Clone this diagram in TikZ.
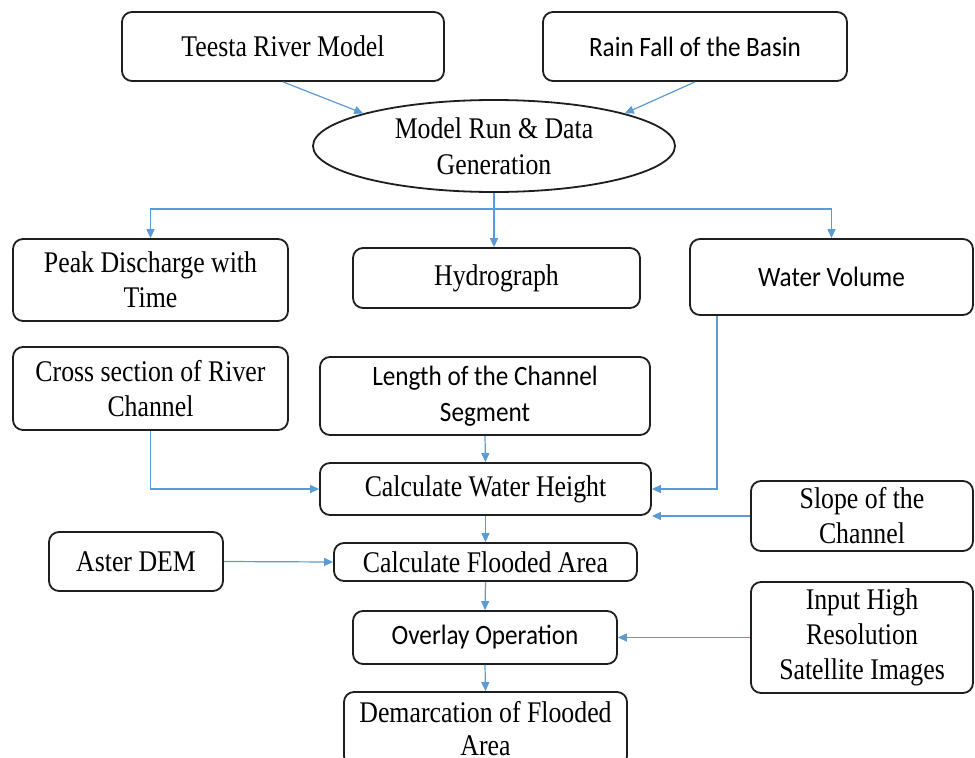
\documentclass[tikz,border=0pt]{standalone}
\usepackage{fontspec}
\setmainfont[FakeStretch=0.86]{Liberation Serif}
\newfontfamily\calfont[FakeStretch=0.9]{Carlito}
\usetikzlibrary{shapes.geometric,arrows.meta}
\definecolor{arrblue}{RGB}{91,155,213}
\definecolor{boxline}{RGB}{30,30,30}
\begin{document}
\begin{tikzpicture}[x=1pt,y=-1pt,
  box/.style={draw=boxline, line width=1.8pt, rounded corners=10pt, align=center, inner sep=0pt,
    font=\fontsize{30}{35}\selectfont},
  cbox/.style={box, font=\calfont\fontsize{28}{36}\selectfont},
  arr/.style={draw=arrblue, line width=1.2pt, -{Triangle[length=9pt,width=8pt]}},
  ln/.style={draw=arrblue, line width=1.2pt}]
\useasboundingbox (0,0) rectangle (975,758);
\clip (0,0) rectangle (975,758);
\fill[white] (0,0) rectangle (975,758);

\node[box, minimum width=322pt, minimum height=69pt] (teesta) at (283,46.5) {Teesta River Model};
\node[cbox, minimum width=304pt, minimum height=69pt] (rain) at (695,46.5) {Rain Fall of the Basin};
\node[ellipse, draw=boxline, line width=1.8pt, inner sep=0pt, minimum width=362pt, minimum height=92pt,
  align=center, font=\fontsize{30}{36}\selectfont] (ell) at (494,146) {Model Run \& Data\\Generation};

\node[box, minimum width=275pt, minimum height=82pt] (peak) at (150.5,280) {Peak Discharge with\\Time};
\node[box, minimum width=287pt, minimum height=60pt] (hydro) at (496.5,278) {Hydrograph};
\node[cbox, minimum width=283pt, minimum height=76pt] (wvol) at (831.5,277) {Water Volume};

\node[box, minimum width=275pt, minimum height=83pt] (cross) at (150.5,388.5) {Cross section of River\\Channel};
\node[cbox, minimum width=330pt, minimum height=78pt] (length) at (485,396) {Length of the Channel\\Segment};

\node[box, minimum width=331pt, minimum height=52pt] (wh) at (485.5,489) {Calculate Water Height};
\node[box, minimum width=222pt, minimum height=70pt] (slope) at (862,516) {Slope of the\\Channel};

\node[box, minimum width=303pt, minimum height=38pt] (flood) at (485.5,562) {Calculate Flooded Area};
\node[box, minimum width=174pt, minimum height=59pt] (aster) at (136,561.5) {Aster DEM};

\node[cbox, minimum width=264pt, minimum height=53pt] (overlay) at (485,637.5) {Overlay Operation};
\node[box, minimum width=222pt, minimum height=111pt] (input) at (862,637.5) {Input High\\Resolution\\Satellite Images};

\node[box, minimum width=283pt, minimum height=74pt, font=\fontsize{30}{33}\selectfont] (demarc) at (485.5,729) {Demarcation of Flooded\\Area};

% connectors
\draw[arr] (teesta.south) -- (ell.166);
\draw[arr] (rain.south) -- (ell.14);
\coordinate (bj) at (494,209);
\draw[arr] (ell.south) -- (ell.south |- hydro.north);
\draw[arr] (bj) -| (peak.north);
\draw[arr] (bj) -| (wvol.north);
\draw[arr] (cross.south) |- (wh.west);
\draw[arr] (length.south) -- (wh.north);
\draw[arr] ([xshift=-114.5pt]wvol.south) |- (wh.east);
\draw[arr] (slope.west) -- (wh.east |- slope.west);
\draw[arr] (wh.south) -- (flood.north);
\draw[arr] (aster.east) -- (flood.west);
\draw[arr] (flood.south) -- (overlay.north);
\draw[arr] (input.west) -- (overlay.east);
\draw[arr] (overlay.south) -- (demarc.north);
\end{tikzpicture}
\end{document}
